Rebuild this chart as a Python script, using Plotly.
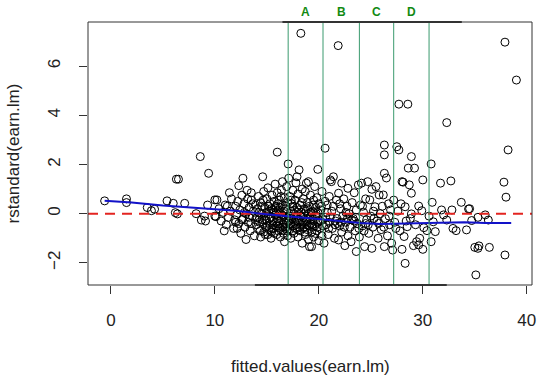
import plotly.graph_objects as go

# ---- data ----
pts_left = [(-0.6,0.52),(1.5,0.6),(1.5,0.45),(3.5,0.25),(4.2,0.18),(3.9,0.12),(5.4,0.52),(6.0,0.42),
            (6.3,1.4),(6.5,1.4),(7.1,0.42),(6.2,0.04),(6.4,-0.01),(8.6,2.32),(9.4,1.64),(9.3,0.35),
            (10.0,0.56),(8.7,-0.26),(9.1,-0.3),(8.2,0.0),(9.0,-0.1),(10.0,-0.1)]
pts_10_14 = [(10.2,0.56),(10.1,-0.12),(10.4,0.2),(10.6,-0.3),(10.8,0.05),(11.0,0.35),(11.1,-0.45),(11.3,-0.15),
             (11.5,0.1),(11.6,0.6),(11.8,-0.6),(11.9,-0.25),(10.9,-0.7),(11.4,0.85),(12.0,0.3),
             (12.1,-0.05),(12.2,0.5),(12.3,-0.4),(12.4,0.15),(12.5,-0.8),(12.6,0.75),(12.7,-0.2),(12.8,0.4),
             (12.9,-0.55),(13.0,0.0),(13.1,0.95),(13.2,-0.35),(13.3,0.25),(13.4,-0.7),(13.5,0.55),(13.6,-0.1),
             (13.7,0.1),(13.8,-0.9),(13.9,0.35),(14.0,-0.45),(12.3,1.14),(12.7,1.44),(13.0,-1.05),(13.5,0.85),
             (12.6,-0.25),(13.3,-0.15),(13.9,-0.25),(12.0,-0.35),(11.2,0.3),(12.15,-0.6),(12.85,0.05),
             (13.45,-0.4),(13.65,0.4),(13.15,0.6)]
pts_14_17 = [(14.1,0.2),(14.2,-0.6),(14.2,0.7),(14.3,-0.2),(14.4,0.45),(14.4,-0.95),(14.5,0.0),(14.6,-0.4),
             (14.6,1.5),(14.7,0.9),(14.7,-0.75),(14.8,0.25),(14.9,-0.1),(14.9,-0.55),(15.0,0.6),(15.0,-0.3),
             (15.1,1.05),(15.1,-0.85),(15.2,0.1),(15.3,-0.45),(15.3,0.4),(15.4,-0.15),(15.4,-1.0),(15.5,0.75),
             (15.5,-0.6),(15.6,0.05),(15.6,-0.3),(15.7,0.5),(15.7,-0.8),(15.8,-0.05),(15.8,1.2),(15.9,0.3),
             (15.9,-0.5),(16.0,2.5),(16.0,-0.2),(16.0,0.85),(16.1,-0.7),(16.1,0.15),(16.2,-0.4),(16.2,0.55),
             (16.3,-0.95),(16.3,0.0),(16.4,-0.25),(16.4,0.95),(16.5,1.3),(16.5,-0.55),(16.5,0.35),(16.6,-0.1),
             (16.6,-0.8),(16.7,0.65),(16.7,-1.14),(16.7,-0.35),(16.8,0.2),(16.8,-0.6),(16.9,1.1),(16.9,-0.15),
             (17.0,0.45),(17.0,-0.9),(14.3,-0.35),(14.8,-0.25),(15.2,-0.65),(15.6,-0.45),(16.1,-0.5),(16.6,-0.45),
             (16.9,-0.4),(15.0,0.05),(15.9,0.05),(14.5,0.3),(16.3,0.25),(15.4,0.2),
             (14.05,-0.15),(14.25,0.05),(14.35,-0.7),(14.55,-0.25),(14.65,0.55),(14.85,-0.85),(15.05,-0.5),
             (15.15,0.3),(15.25,-0.2),(15.45,-0.75),(15.55,0.15),(15.65,-0.6),(15.75,0.25),(15.85,-0.35),
             (15.95,-0.85),(16.05,0.4),(16.15,-0.3),(16.25,-0.6),(16.35,0.7),(16.45,-0.05),(16.55,-0.7),
             (16.65,0.1),(16.75,-0.55),(16.85,0.3),(16.95,-0.7)]
pts_17_20 = [(17.05,2.02),(17.1,1.44),(17.1,-0.3),(17.2,0.7),(17.2,-0.65),(17.3,0.1),(17.3,-1.0),(17.4,0.4),
             (17.4,-0.2),(17.5,-0.5),(17.5,0.95),(17.6,0.0),(17.6,-0.8),(17.7,0.55),(17.7,-0.35),(17.8,1.25),
             (17.8,-0.1),(17.9,1.5),(17.9,-0.6),(17.9,0.25),(18.0,-0.95),(18.0,0.8),(18.1,1.78),(18.1,-0.25),
             (18.2,0.35),(18.2,-0.7),(18.27,7.33),(18.3,0.05),(18.3,-0.45),(18.4,1.0),(18.4,-1.2),(18.5,-0.15),
             (18.5,0.6),(18.6,-0.55),(18.6,0.2),(18.7,-0.85),(18.7,0.9),(18.8,1.24),(18.8,-0.3),(18.9,0.45),
             (18.9,-0.65),(19.0,1.3),(19.0,0.0),(19.0,-1.05),(19.1,-1.34),(19.1,0.3),(19.2,-0.4),(19.2,0.75),
             (19.3,-0.75),(19.3,-1.34),(19.4,0.1),(19.4,-0.2),(19.5,0.55),(19.5,-0.95),(19.6,1.1),(19.6,-0.5),
             (19.7,0.25),(19.7,-0.1),(19.8,-0.7),(19.8,0.65),(19.9,1.8),(19.9,-0.35),(20.0,0.4),(20.0,-1.1),
             (17.3,-0.4),(17.8,-0.45),(18.4,-0.35),(18.9,-0.2),(19.4,-0.55),(17.5,0.3),(18.6,0.0),(19.9,0.05),
             (17.15,-0.1),(17.25,-0.45),(17.35,0.55),(17.45,-0.7),(17.55,-0.25),(17.65,0.15),(17.75,-0.6),
             (17.85,0.05),(17.95,-0.3),(18.05,0.15),(18.15,-0.55),(18.25,-0.1),(18.35,0.45),(18.45,-0.6),
             (18.55,-0.35),(18.65,-0.75),(18.75,0.1),(18.85,-0.45),(18.95,0.2),(19.05,-0.5),(19.15,-0.15),
             (19.25,0.05),(19.35,-0.45),(19.45,0.35),(19.55,-0.3),(19.65,-0.8),(19.75,0.0),(19.85,-0.55)]
pts_20_24 = [(20.1,-0.6),(20.2,0.15),(20.3,0.9),(20.4,-0.25),(20.5,-1.2),(20.6,2.66),(20.6,0.5),(20.7,-0.45),
             (20.8,0.05),(20.9,-0.85),(21.0,0.7),(21.1,1.37),(21.1,-0.15),(21.2,1.3),(21.3,-0.6),(21.4,1.5),
             (21.4,0.3),(21.5,-1.0),(21.6,-0.3),(21.7,0.55),(21.86,6.83),(21.9,0.83),(21.9,-1.07),(22.0,-0.5),
             (22.1,0.2),(22.2,1.24),(22.2,-0.75),(22.3,-0.1),(22.4,0.6),(22.5,-1.3),(22.6,-0.35),(22.7,0.3),
             (22.8,1.03),(22.8,-0.9),(22.9,0.0),(23.0,-0.55),(23.1,-1.14),(23.2,0.45),(23.3,-0.2),(23.4,0.85),
             (23.5,-0.7),(23.6,-1.54),(23.6,0.15),(23.7,-0.4),(23.8,1.17),(23.9,-0.95),(24.0,0.35),(20.3,-0.9),
             (21.0,-0.35),(21.8,-0.4),(22.6,0.05),(23.4,-0.3),(20.8,0.35),(22.0,0.4),
             (20.15,-0.3),(20.25,0.3),(20.45,-0.5),(20.65,-0.15),(20.95,-0.6),(21.25,0.1),(21.55,-0.45),
             (21.75,-0.2),(22.15,-0.35),(22.45,-0.55),(22.75,-0.2),(23.15,-0.25),(23.55,-0.15),(23.85,-0.6)]
pts_24_27 = [(24.1,1.24),(24.2,-0.5),(24.3,0.05),(24.4,-1.34),(24.5,0.6),(24.6,-0.25),(24.7,1.3),(24.8,-0.8),
             (24.9,0.56),(25.0,-0.1),(25.1,-1.41),(25.1,0.99),(25.2,-0.55),(25.4,0.28),(25.5,1.1),(25.6,-0.3),
             (25.7,-1.0),(25.8,0.76),(25.9,0.0),(26.0,-0.65),(26.2,0.76),(26.3,2.79),(26.3,2.39),(26.3,1.64),
             (26.3,-1.34),(26.4,-0.2),(26.5,1.45),(26.6,-0.9),(26.7,0.4),(26.8,-0.45),(26.9,0.15),(27.0,-1.2),
             (24.5,-0.4),(25.3,-0.2),(26.1,0.3),(24.2,0.3),(24.35,-0.7),(24.75,-0.45),(25.25,0.1),
             (25.75,-0.4),(26.25,-0.55),(26.75,-0.1)]
pts_27_31 = [(27.1,-1.48),(27.2,0.55),(27.3,-0.35),(27.5,2.72),(27.6,0.1),(27.7,2.59),(27.7,4.45),(27.8,-0.7),
             (28.0,1.3),(28.0,-1.45),(28.1,1.28),(28.2,-0.93),(28.3,0.28),(28.3,-2.02),(28.5,-0.53),(28.56,4.45),
             (28.6,1.85),(28.7,1.17),(28.8,-0.2),(28.9,2.32),(28.9,0.83),(28.9,-0.01),(29.1,-1.3),(29.2,1.85),
             (29.4,-1.14),(29.6,0.31),(29.6,-1.27),(29.7,-1.0),(29.9,0.12),(30.0,1.37),(30.0,-1.45),(30.1,-0.57),
             (30.4,-0.69),(30.6,-0.1),(30.8,2.02),(30.8,-1.14),(30.9,0.46),(27.4,-0.6),(28.4,-0.3),(29.3,-0.45),
             (27.9,0.4)]
pts_right = [(31.0,-0.33),(31.2,-0.73),(31.7,1.24),(31.8,0.15),(32.0,-0.05),(32.3,3.7),(32.3,-0.26),(32.7,1.33),
             (32.8,0.15),(32.9,-0.6),(33.2,-0.69),(33.7,0.46),(34.2,-0.66),(34.4,0.19),(34.5,0.2),(34.7,-0.28),
             (35.0,-1.37),(35.1,-2.49),(35.3,-0.15),(35.3,-1.41),(35.4,-1.31),(36.0,-0.05),(36.3,-0.26),(36.4,-1.37),
             (37.8,1.28),(37.9,6.97),(37.9,-1.68),(38.0,0.67),(38.2,2.59),(39.0,5.43)]

smooth_x = [-0.6, 2, 5, 8, 10, 12, 14, 16, 18, 20, 22, 24, 26, 28, 30, 32, 34, 36, 38.5]
smooth_y = [0.52, 0.45, 0.33, 0.25, 0.2, 0.12, 0.02, -0.08, -0.15, -0.22, -0.3, -0.38, -0.42, -0.4, -0.4, -0.38, -0.35, -0.38, -0.38]

cut_points = [17.05, 20.4, 23.9, 27.2, 30.6]
group_labels = ["A", "B", "C", "D"]

x_ticks = [0, 10, 20, 30, 40]
y_ticks = [-2, 0, 2, 4, 6]

all_pts = pts_left + pts_10_14 + pts_14_17 + pts_17_20 + pts_20_24 + pts_24_27 + pts_27_31 + pts_right
fitted = [p[0] for p in all_pts]
rstd = [p[1] for p in all_pts]

FONT = "Liberation Sans, Arial, sans-serif"
fig = go.Figure()
fig.add_trace(go.Scatter(x=fitted, y=rstd, mode="markers",
                         marker=dict(symbol="circle-open", size=8, color="black", line=dict(width=1, color="black")),
                         showlegend=False, hoverinfo="skip"))
fig.add_trace(go.Scatter(x=[-2.2, 40.5], y=[0, 0], mode="lines",
                         line=dict(color="#e32420", width=2, dash="10px,7px"), showlegend=False, hoverinfo="skip"))
fig.add_trace(go.Scatter(x=smooth_x, y=smooth_y, mode="lines",
                         line=dict(color="#1212c8", width=2), showlegend=False, hoverinfo="skip"))

for c in cut_points:
    fig.add_shape(type="line", xref="x", yref="paper", x0=c, x1=c, y0=0, y1=1,
                  line=dict(color="#3a9a6e", width=1), layer="above")
for i, lab in enumerate(group_labels):
    fig.add_annotation(x=(cut_points[i] + cut_points[i + 1]) / 2, xref="x", y=1, yref="paper",
                       yshift=10, yanchor="middle", text="<b>%s</b>" % lab, showarrow=False,
                       font=dict(family=FONT, size=12, color="#128a12"))

fig.add_shape(type="rect", xref="paper", yref="paper", x0=0, x1=1, y0=0, y1=1,
              line=dict(color="#333333", width=1), layer="above")
fig.add_shape(type="line", xref="x", yref="paper", x0=13.85, x1=32.3, y0=0, y1=0,
              line=dict(color="#333333", width=2), layer="above")
fig.add_shape(type="line", xref="x", yref="paper", x0=16.5, x1=33.75, y0=1, y1=1,
              line=dict(color="#333333", width=2), layer="above")

fig.add_annotation(text="fitted.values(earn.lm)", xref="paper", yref="paper", x=0.5, y=0,
                   yshift=-81, yanchor="middle", showarrow=False, font=dict(family=FONT, size=17, color="#222"))
fig.add_annotation(text="rstandard(earn.lm)", xref="paper", yref="paper", x=0, y=0.5,
                   xshift=-75, xanchor="center", textangle=-90, showarrow=False,
                   font=dict(family=FONT, size=17, color="#222"))

fig.update_xaxes(range=[-2.2, 40.5], tickvals=x_ticks, ticks="outside", ticklen=8, tickcolor="#333",
                 showgrid=False, zeroline=False, showline=False, ticklabelstandoff=12, automargin=False,
                 tickfont=dict(family=FONT, size=17, color="#222"))
fig.update_yaxes(range=[-2.9, 7.79], tickvals=y_ticks, ticks="outside", ticklen=8, tickcolor="#333",
                 showgrid=False, zeroline=False, showline=False, tickangle=-90, ticklabelstandoff=12,
                 automargin=False, tickfont=dict(family=FONT, size=17, color="#222"))
fig.update_layout(width=540, height=377, margin=dict(l=88, r=8, t=22, b=92, autoexpand=False),
                  plot_bgcolor="white", paper_bgcolor="white", hovermode=False)
fig.write_html("out.html", config={"displayModeBar": False},
               post_script="document.body.style.margin='0px';document.body.style.overflow='hidden';")
